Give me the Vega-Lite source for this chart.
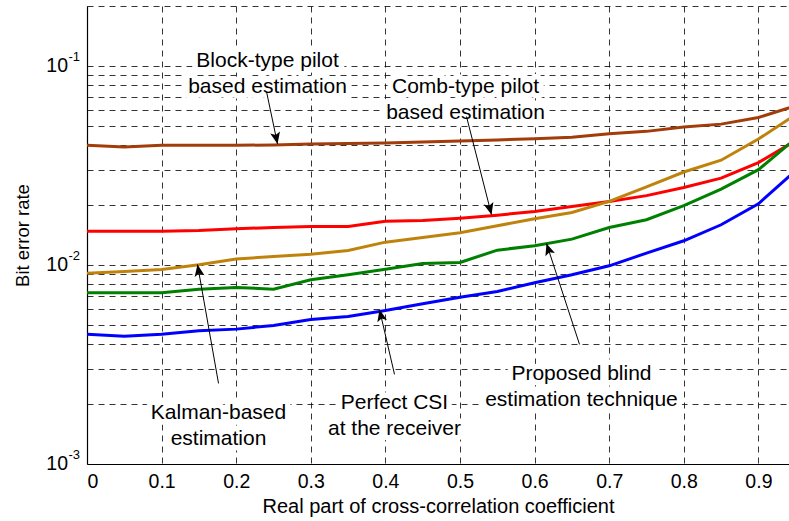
{
  "$schema": "https://vega.github.io/schema/vega-lite/v6.json",
  "autosize": {"type": "none"},
  "padding": {"left": 87, "top": 6, "right": 0, "bottom": 57},
  "width": 702,
  "height": 458,
  "background": "white",
  "config": {
    "view": {"stroke": null},
    "font": "Liberation Sans",
    "axis": {
      "labelFont": "Liberation Sans",
      "titleFont": "Liberation Sans",
      "labelColor": "black",
      "titleColor": "black",
      "titleFontWeight": "normal",
      "domainColor": "black",
      "domainWidth": 1.2,
      "grid": true,
      "gridColor": "#111",
      "gridOpacity": 0.85,
      "gridWidth": 1,
      "gridDash": [6, 5],
      "ticks": false
    }
  },
  "datasets": {
    "ber": [
      {"x": 0.00, "ber": 0.0399, "method": "Block-type pilot"},
      {"x": 0.05, "ber": 0.0391, "method": "Block-type pilot"},
      {"x": 0.10, "ber": 0.0399, "method": "Block-type pilot"},
      {"x": 0.15, "ber": 0.0399, "method": "Block-type pilot"},
      {"x": 0.20, "ber": 0.0399, "method": "Block-type pilot"},
      {"x": 0.25, "ber": 0.0401, "method": "Block-type pilot"},
      {"x": 0.30, "ber": 0.0405, "method": "Block-type pilot"},
      {"x": 0.35, "ber": 0.0407, "method": "Block-type pilot"},
      {"x": 0.40, "ber": 0.0410, "method": "Block-type pilot"},
      {"x": 0.45, "ber": 0.0415, "method": "Block-type pilot"},
      {"x": 0.50, "ber": 0.0420, "method": "Block-type pilot"},
      {"x": 0.55, "ber": 0.0425, "method": "Block-type pilot"},
      {"x": 0.60, "ber": 0.0431, "method": "Block-type pilot"},
      {"x": 0.65, "ber": 0.0438, "method": "Block-type pilot"},
      {"x": 0.70, "ber": 0.0456, "method": "Block-type pilot"},
      {"x": 0.75, "ber": 0.0469, "method": "Block-type pilot"},
      {"x": 0.80, "ber": 0.0493, "method": "Block-type pilot"},
      {"x": 0.85, "ber": 0.0510, "method": "Block-type pilot"},
      {"x": 0.90, "ber": 0.0551, "method": "Block-type pilot"},
      {"x": 0.95, "ber": 0.0630, "method": "Block-type pilot"},

      {"x": 0.00, "ber": 0.01479, "method": "Comb-type pilot"},
      {"x": 0.05, "ber": 0.01479, "method": "Comb-type pilot"},
      {"x": 0.10, "ber": 0.01479, "method": "Comb-type pilot"},
      {"x": 0.15, "ber": 0.01490, "method": "Comb-type pilot"},
      {"x": 0.20, "ber": 0.01520, "method": "Comb-type pilot"},
      {"x": 0.25, "ber": 0.01543, "method": "Comb-type pilot"},
      {"x": 0.30, "ber": 0.01560, "method": "Comb-type pilot"},
      {"x": 0.35, "ber": 0.01560, "method": "Comb-type pilot"},
      {"x": 0.40, "ber": 0.01660, "method": "Comb-type pilot"},
      {"x": 0.45, "ber": 0.01674, "method": "Comb-type pilot"},
      {"x": 0.50, "ber": 0.01718, "method": "Comb-type pilot"},
      {"x": 0.55, "ber": 0.01779, "method": "Comb-type pilot"},
      {"x": 0.60, "ber": 0.01858, "method": "Comb-type pilot"},
      {"x": 0.65, "ber": 0.01968, "method": "Comb-type pilot"},
      {"x": 0.70, "ber": 0.02085, "method": "Comb-type pilot"},
      {"x": 0.75, "ber": 0.02230, "method": "Comb-type pilot"},
      {"x": 0.80, "ber": 0.02450, "method": "Comb-type pilot"},
      {"x": 0.85, "ber": 0.02730, "method": "Comb-type pilot"},
      {"x": 0.90, "ber": 0.03270, "method": "Comb-type pilot"},
      {"x": 0.95, "ber": 0.04220, "method": "Comb-type pilot"},

      {"x": 0.00, "ber": 0.00909, "method": "Kalman-based"},
      {"x": 0.05, "ber": 0.00927, "method": "Kalman-based"},
      {"x": 0.10, "ber": 0.00949, "method": "Kalman-based"},
      {"x": 0.15, "ber": 0.01002, "method": "Kalman-based"},
      {"x": 0.20, "ber": 0.01070, "method": "Kalman-based"},
      {"x": 0.25, "ber": 0.01104, "method": "Kalman-based"},
      {"x": 0.30, "ber": 0.01133, "method": "Kalman-based"},
      {"x": 0.35, "ber": 0.01183, "method": "Kalman-based"},
      {"x": 0.40, "ber": 0.01302, "method": "Kalman-based"},
      {"x": 0.45, "ber": 0.01375, "method": "Kalman-based"},
      {"x": 0.50, "ber": 0.01452, "method": "Kalman-based"},
      {"x": 0.55, "ber": 0.01574, "method": "Kalman-based"},
      {"x": 0.60, "ber": 0.01707, "method": "Kalman-based"},
      {"x": 0.65, "ber": 0.01836, "method": "Kalman-based"},
      {"x": 0.70, "ber": 0.02085, "method": "Kalman-based"},
      {"x": 0.75, "ber": 0.02470, "method": "Kalman-based"},
      {"x": 0.80, "ber": 0.02930, "method": "Kalman-based"},
      {"x": 0.85, "ber": 0.03360, "method": "Kalman-based"},
      {"x": 0.90, "ber": 0.04290, "method": "Kalman-based"},
      {"x": 0.95, "ber": 0.05700, "method": "Kalman-based"},

      {"x": 0.00, "ber": 0.00725, "method": "Proposed blind"},
      {"x": 0.05, "ber": 0.00725, "method": "Proposed blind"},
      {"x": 0.10, "ber": 0.00725, "method": "Proposed blind"},
      {"x": 0.15, "ber": 0.00756, "method": "Proposed blind"},
      {"x": 0.20, "ber": 0.00771, "method": "Proposed blind"},
      {"x": 0.25, "ber": 0.00756, "method": "Proposed blind"},
      {"x": 0.30, "ber": 0.00843, "method": "Proposed blind"},
      {"x": 0.35, "ber": 0.00893, "method": "Proposed blind"},
      {"x": 0.40, "ber": 0.00952, "method": "Proposed blind"},
      {"x": 0.45, "ber": 0.01017, "method": "Proposed blind"},
      {"x": 0.50, "ber": 0.01030, "method": "Proposed blind"},
      {"x": 0.55, "ber": 0.01187, "method": "Proposed blind"},
      {"x": 0.60, "ber": 0.01249, "method": "Proposed blind"},
      {"x": 0.65, "ber": 0.01348, "method": "Proposed blind"},
      {"x": 0.70, "ber": 0.01543, "method": "Proposed blind"},
      {"x": 0.75, "ber": 0.01687, "method": "Proposed blind"},
      {"x": 0.80, "ber": 0.01984, "method": "Proposed blind"},
      {"x": 0.85, "ber": 0.02404, "method": "Proposed blind"},
      {"x": 0.90, "ber": 0.03010, "method": "Proposed blind"},
      {"x": 0.95, "ber": 0.04320, "method": "Proposed blind"},

      {"x": 0.00, "ber": 0.00449, "method": "Perfect CSI"},
      {"x": 0.05, "ber": 0.00439, "method": "Perfect CSI"},
      {"x": 0.10, "ber": 0.00449, "method": "Perfect CSI"},
      {"x": 0.15, "ber": 0.00467, "method": "Perfect CSI"},
      {"x": 0.20, "ber": 0.00476, "method": "Perfect CSI"},
      {"x": 0.25, "ber": 0.00497, "method": "Perfect CSI"},
      {"x": 0.30, "ber": 0.00532, "method": "Perfect CSI"},
      {"x": 0.35, "ber": 0.00551, "method": "Perfect CSI"},
      {"x": 0.40, "ber": 0.00590, "method": "Perfect CSI"},
      {"x": 0.45, "ber": 0.00638, "method": "Perfect CSI"},
      {"x": 0.50, "ber": 0.00689, "method": "Perfect CSI"},
      {"x": 0.55, "ber": 0.00736, "method": "Perfect CSI"},
      {"x": 0.60, "ber": 0.00814, "method": "Perfect CSI"},
      {"x": 0.65, "ber": 0.00893, "method": "Perfect CSI"},
      {"x": 0.70, "ber": 0.00990, "method": "Perfect CSI"},
      {"x": 0.75, "ber": 0.01146, "method": "Perfect CSI"},
      {"x": 0.80, "ber": 0.01323, "method": "Perfect CSI"},
      {"x": 0.85, "ber": 0.01592, "method": "Perfect CSI"},
      {"x": 0.90, "ber": 0.02030, "method": "Perfect CSI"},
      {"x": 0.95, "ber": 0.02980, "method": "Perfect CSI"}
    ],
    "notes": [
      {"label": "Block-type pilot\nbased estimation", "tx": 0.242, "ty": 0.1053, "x1": 0.2406, "y1": 0.0744, "x2": 0.2554, "y2": 0.0405},
      {"label": "Comb-type pilot\nbased estimation", "tx": 0.5074, "ty": 0.078, "x1": 0.5087, "y1": 0.0557, "x2": 0.5422, "y2": 0.0179},
      {"label": "Kalman-based\nestimation", "tx": 0.1763, "ty": 0.001795, "x1": 0.1763, "y1": 0.00254, "x2": 0.1481, "y2": 0.01006},
      {"label": "Perfect CSI\nat the receiver", "tx": 0.4122, "ty": 0.002014, "x1": 0.4122, "y1": 0.00282, "x2": 0.3921, "y2": 0.00597},
      {"label": "Proposed blind\nestimation technique", "tx": 0.6628, "ty": 0.002818, "x1": 0.6602, "y1": 0.00399, "x2": 0.6159, "y2": 0.01283}
    ],
    "decades": [
      {"p": 0.1, "exp": "-1"},
      {"p": 0.01, "exp": "-2"},
      {"p": 0.001, "exp": "-3"}
    ]
  },
  "encoding": {
    "x": {
      "type": "quantitative",
      "scale": {"domain": [0, 0.941], "nice": false, "zero": false},
      "axis": {
        "title": "Real part of cross-correlation coefficient",
        "values": [0, 0.1, 0.2, 0.3, 0.4, 0.5, 0.6, 0.7, 0.8, 0.9],
        "labelExpr": "datum.value == 0 ? '0' : format(datum.value, '.1f')",
        "labelFontSize": 19.5,
        "labelPadding": 8,
        "titleFontSize": 20,
        "titleY": 42,
        "titleBaseline": "middle"
      }
    },
    "y": {
      "type": "quantitative",
      "scale": {"type": "log", "domain": [0.001, 0.2], "nice": false},
      "axis": {
        "title": "Bit error rate",
        "labels": false,
        "values": [0.001, 0.002, 0.003, 0.004, 0.005, 0.006, 0.007, 0.008, 0.009,
                   0.01, 0.02, 0.03, 0.04, 0.05, 0.06, 0.07, 0.08, 0.09, 0.1, 0.2],
        "titleFontSize": 18.5,
        "titleX": -65,
        "titleY": 229,
        "titleBaseline": "middle"
      }
    }
  },
  "layer": [
    {
      "data": {"name": "notes"},
      "mark": {"type": "text", "lineBreak": "\n", "fontSize": 21, "lineHeight": 26, "baseline": "middle", "align": "center",
               "fill": "white", "stroke": "white", "strokeWidth": 11, "strokeJoin": "round"},
      "encoding": {
        "x": {"field": "tx", "type": "quantitative"},
        "y": {"field": "ty", "type": "quantitative"},
        "text": {"field": "label"}
      }
    },
    {
      "mark": {"type": "rule", "color": "black", "strokeWidth": 1.2},
      "encoding": {"y": {"datum": 0.2, "type": "quantitative"}}
    },
    {
      "data": {"name": "ber"},
      "mark": {"type": "line", "strokeWidth": 3, "clip": true},
      "encoding": {
        "x": {"field": "x", "type": "quantitative"},
        "y": {"field": "ber", "type": "quantitative"},
        "color": {
          "field": "method", "type": "nominal", "legend": null,
          "scale": {
            "domain": ["Block-type pilot", "Comb-type pilot", "Kalman-based", "Proposed blind", "Perfect CSI"],
            "range": ["#A23C0A", "#FF0000", "#BF830C", "#008000", "#0000FF"]
          }
        }
      }
    },
    {
      "data": {"name": "notes"},
      "mark": {"type": "rule", "color": "black", "strokeWidth": 1},
      "encoding": {
        "x": {"field": "x1", "type": "quantitative"},
        "y": {"field": "y1", "type": "quantitative"},
        "x2": {"field": "x2"},
        "y2": {"field": "y2"}
      }
    },
    {
      "data": {"name": "notes"},
      "transform": [
        {"calculate": "atan2((datum.x2 - datum.x1) * 746.8, (log(datum.y2) - log(datum.y1)) / LN10 * 199) * 180 / PI", "as": "heading"}
      ],
      "mark": {"type": "point", "shape": "M0,0L0.42,1L0,0.78L-0.42,1Z", "filled": true, "color": "black", "opacity": 1, "size": 560},
      "encoding": {
        "x": {"field": "x2", "type": "quantitative"},
        "y": {"field": "y2", "type": "quantitative"},
        "angle": {"field": "heading", "type": "quantitative", "scale": null}
      }
    },
    {
      "data": {"name": "notes"},
      "mark": {"type": "text", "lineBreak": "\n", "fontSize": 21, "lineHeight": 26, "baseline": "middle", "align": "center", "color": "black"},
      "encoding": {
        "x": {"field": "tx", "type": "quantitative"},
        "y": {"field": "ty", "type": "quantitative"},
        "text": {"field": "label"}
      }
    },
    {
      "data": {"name": "decades"},
      "mark": {"type": "text", "text": "10", "fontSize": 19.5, "align": "right", "baseline": "middle", "dx": -19, "color": "black"},
      "encoding": {
        "x": {"datum": 0, "type": "quantitative"},
        "y": {"field": "p", "type": "quantitative"}
      }
    },
    {
      "data": {"name": "decades"},
      "mark": {"type": "text", "fontSize": 13, "align": "left", "baseline": "middle", "dx": -18.5, "dy": -9, "color": "black"},
      "encoding": {
        "x": {"datum": 0, "type": "quantitative"},
        "y": {"field": "p", "type": "quantitative"},
        "text": {"field": "exp"}
      }
    }
  ]
}
